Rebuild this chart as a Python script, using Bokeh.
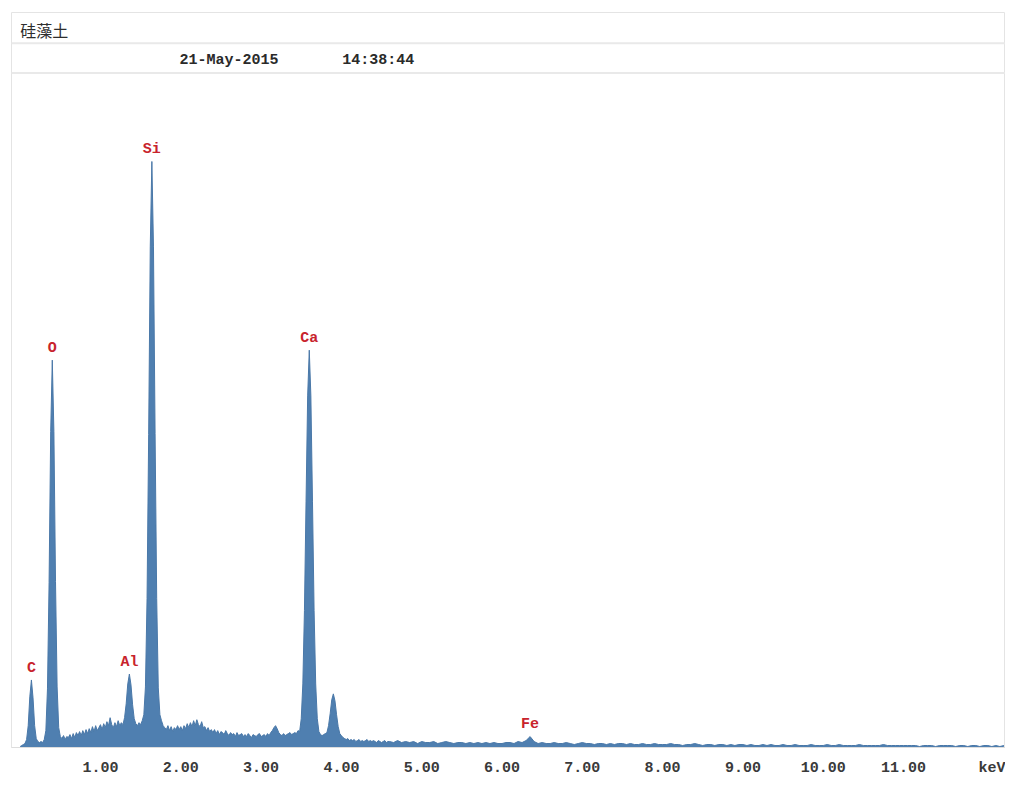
import numpy as np
from bokeh.plotting import figure
from bokeh.models import Range1d, FixedTicker, PrintfTickFormatter, Span, Label, ColumnDataSource
from bokeh.core.properties import value
from bokeh.embed import file_html
from bokeh.resources import INLINE

# ---------------- data ----------------
sample_name = "硅藻土"
acq_date = "21-May-2015"
acq_time = "14:38:44"

# fine channels, 0.02 keV wide, 0.00 .. 4.58 keV (counts, arbitrary units)
fine_step_keV = 0.02
counts_fine = [
    1, 2, 3, 4, 8, 22, 51, 68, 50, 22,            # 0.00-0.18
    9, 6, 5, 6, 5, 8, 17, 59, 166, 318,           # 0.20-0.38
    390, 318, 167, 61, 20, 11, 9, 12, 8, 11,      # 0.40-0.58
    10, 13, 9, 14, 10, 15, 12, 16, 12, 17,        # 0.60-0.78
    13, 18, 14, 19, 15, 21, 16, 22, 17, 20,       # 0.80-0.98
    23, 18, 24, 20, 26, 22, 30, 23, 20, 25,       # 1.00-1.18
    21, 27, 22, 25, 23, 30, 44, 64, 74, 63,       # 1.20-1.38
    43, 29, 24, 22, 25, 23, 27, 33, 61, 150,      # 1.40-1.58
    315, 504, 590, 504, 316, 150, 60, 33, 27, 22, # 1.60-1.78
    20, 18, 22, 17, 21, 16, 20, 18, 22, 18,       # 1.80-1.98
    21, 17, 22, 19, 24, 20, 25, 21, 27, 22,       # 2.00-2.18
    28, 23, 21, 26, 20, 21, 17, 20, 16, 18,       # 2.20-2.38
    15, 18, 14, 17, 13, 16, 15, 13, 17, 14,       # 2.40-2.58
    12, 15, 13, 14, 11, 15, 12, 13, 14, 11,       # 2.60-2.78
    13, 11, 14, 12, 10, 13, 12, 11, 13, 14,       # 2.80-2.98
    11, 12, 13, 11, 14, 12, 15, 17, 20, 22,       # 3.00-3.18
    19, 15, 13, 12, 14, 12, 13, 14, 15, 13,       # 3.20-3.38
    14, 15, 14, 17, 16, 29, 64, 138, 248, 354,    # 3.40-3.58
    400, 354, 248, 138, 64, 29, 16, 13, 12, 13,   # 3.60-3.78
    14, 15, 22, 34, 48, 54, 47, 33, 21, 14,       # 3.80-3.98
    12, 10, 9, 8, 9, 7, 8, 7, 8, 6,               # 4.00-4.18
    7, 8, 6, 7, 6, 7, 8, 6, 7, 6,                 # 4.20-4.38
    7, 6, 5, 7, 6, 5, 6, 7, 5, 6,                 # 4.40-4.58
]

# coarser channels, 0.05 keV wide, 4.60 .. 12.25 keV
coarse_start_keV = 4.6
coarse_step_keV = 0.05
counts_coarse = [
    6, 5, 7, 5, 6, 5, 6, 4, 6, 5,   # 4.60-5.05
    5, 6, 4, 5, 6, 5, 4, 5, 5, 4,   # 5.10-5.55
    5, 4, 5, 4, 5, 4, 5, 4, 4, 5,   # 5.60-6.05
    5, 4, 6, 5, 7, 11, 6, 4, 5, 4,  # 6.10-6.55
    4, 5, 4, 4, 5, 4, 3, 4, 5, 4,   # 6.60-7.05
    4, 3, 4, 4, 3, 4, 3, 4, 4, 3,   # 7.10-7.55
    4, 3, 3, 4, 3, 3, 4, 3, 3, 3,   # 7.60-8.05
    4, 3, 3, 2, 3, 3, 4, 3, 2, 3,   # 8.10-8.55
    3, 2, 3, 3, 2, 3, 2, 3, 3, 2,   # 8.60-9.05
    3, 2, 2, 3, 2, 3, 2, 2, 3, 2,   # 9.10-9.55
    2, 3, 2, 2, 2, 3, 2, 2, 2, 3,   # 9.60-10.05
    2, 2, 3, 2, 2, 2, 2, 3, 2, 2,   # 10.10-10.55
    2, 2, 2, 3, 2, 2, 2, 2, 2, 2,   # 10.60-11.05
    2, 2, 1, 2, 2, 2, 1, 2, 2, 2,   # 11.10-11.55
    2, 1, 2, 2, 1, 2, 2, 1, 2, 2,   # 11.60-12.05
    1, 2, 1, 2,                     # 12.10-12.25
]

peak_names = ["C", "O", "Al", "Si", "Ca", "Fe"]
peak_keV = [0.14, 0.40, 1.36, 1.64, 3.60, 6.35]

tick_values = [1, 2, 3, 4, 5, 6, 7, 8, 9, 10, 11]
unit_label = "keV"
unit_tick = 12.13

# ---------------- build ----------------
e_fine = np.arange(len(counts_fine)) * fine_step_keV
e_coarse = coarse_start_keV + np.arange(len(counts_coarse)) * coarse_step_keV
energy = np.concatenate([e_fine, e_coarse])
counts = np.concatenate([np.array(counts_fine, float), np.array(counts_coarse, float)])

spec = ColumnDataSource(dict(x=energy, y=counts))

peak_heights = np.interp(peak_keV, energy, counts)
lab = ColumnDataSource(dict(x=peak_keV, y=peak_heights + 12, t=peak_names))

p = figure(width=1005, height=779, output_backend="svg", toolbar_location=None,
           x_range=Range1d(-0.108, 12.27), y_range=Range1d(0, 740),
           y_axis_location=None, min_border_left=11, min_border_right=0,
           min_border_top=12, min_border_bottom=27)
p.background_fill_color = "white"
p.border_fill_color = "white"
p.outline_line_color = "#e4e4e4"
p.xgrid.visible = False
p.ygrid.visible = False

# header separators
for loc in (709, 679):
    p.add_layout(Span(location=loc, dimension="width", line_color="#e9e9e9", line_width=2))

p.add_layout(Label(x=0.0, y=722, text=sample_name, text_font="Noto Sans CJK SC",
                   text_font_size="16px", text_color="#2e2e2e", text_baseline="middle",
                   text_align="left"))
p.add_layout(Label(x=2.60, y=692, text=acq_date, text_font="Liberation Mono",
                   text_font_size="15px", text_font_style="bold", text_color="#2a2a2a",
                   text_baseline="middle", text_align="center"))
p.add_layout(Label(x=4.46, y=692, text=acq_time, text_font="Liberation Mono",
                   text_font_size="15px", text_font_style="bold", text_color="#2a2a2a",
                   text_baseline="middle", text_align="center"))

p.varea(x="x", y1=0, y2="y", source=spec, fill_color="#4f7fb0")
p.line(x="x", y="y", source=spec, line_color="#4a78a8", line_width=1)

p.text(x="x", y="y", text="t", source=lab, text_font=value("Liberation Mono"),
       text_font_size="15px", text_font_style="bold", text_color="#c8232c",
       text_align="center", text_baseline="middle")

ax = p.xaxis[0]
ax.ticker = FixedTicker(ticks=tick_values + [unit_tick])
ax.formatter = PrintfTickFormatter(format="%.2f")
ax.major_label_overrides = {unit_tick: unit_label}
ax.axis_line_color = "#dddddd"
ax.major_tick_line_color = None
ax.minor_tick_line_color = None
ax.major_tick_out = 0
ax.major_label_standoff = 12
ax.major_label_text_font = "Liberation Mono"
ax.major_label_text_font_size = "15px"
ax.major_label_text_font_style = "bold"
ax.major_label_text_color = "#3a3a3a"

open("out.html", "w").write(file_html(p, INLINE))
